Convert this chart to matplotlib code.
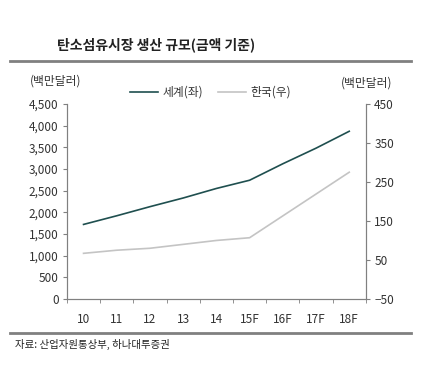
import numpy as np
import matplotlib.pyplot as plt
from matplotlib.lines import Line2D

plt.rcParams['font.family'] = ['Noto Sans CJK KR', 'DejaVu Sans']

# data
years = ["10", "11", "12", "13", "14", "15F", "16F", "17F", "18F"]
world = [1720, 1920, 2130, 2330, 2550, 2740, 3120, 3480, 3870]
korea = [67, 75, 80, 90, 100, 107, 163, 219, 275]

left_ticks = [0, 500, 1000, 1500, 2000, 2500, 3000, 3500, 4000, 4500]
right_ticks = [-50, 50, 150, 250, 350, 450]

world_color = "#1f4f4f"
korea_color = "#c4c4c4"
axis_color = "#808080"

fig = plt.figure(figsize=(4.21, 3.70), dpi=100)
ax = fig.add_axes([0.159, 0.192, 0.710, 0.527])
ax2 = ax.twinx()

x = np.arange(len(years))
ax.plot(x, world, color=world_color, lw=1.2)
ax2.plot(x, korea, color=korea_color, lw=1.2)

ax.set_xlim(-0.5, len(years) - 0.5)
ax.set_ylim(0, 4500)
ax2.set_ylim(-50, 450)
ax.set_yticks(left_ticks)
ax.set_yticklabels([f"{v:,}" for v in left_ticks])
ax2.set_yticks(right_ticks)
ax2.set_yticklabels([str(v).replace("-", "\u2212") for v in right_ticks])

ax.set_xticks(x)
ax.set_xticklabels(years)
ax.tick_params(axis="x", length=0, pad=10)
ax.set_xticks(np.arange(-0.5, len(years)), minor=True)
ax.tick_params(axis="x", which="minor", length=3, color=axis_color, direction="out")

for a in (ax, ax2):
    a.spines["top"].set_visible(False)
    for s in ("left", "right", "bottom"):
        a.spines[s].set_color(axis_color)
        a.spines[s].set_linewidth(0.8)
    a.tick_params(axis="y", length=3, color=axis_color, labelsize=8.5, pad=3, labelcolor="#333333")
ax.tick_params(axis="x", labelsize=8.5, labelcolor="#333333")

fig.text(0.37, 0.878, "탄소섬유시장 생산 규모(금액 기준)", fontsize=10, fontweight="bold",
         ha="center", va="center", color="#222222")
fig.add_artist(Line2D([0.024, 0.976], [0.835, 0.835], color="#808080", lw=2))
fig.add_artist(Line2D([0.024, 0.976], [0.100, 0.100], color="#808080", lw=2))
fig.text(0.036, 0.068, "자료: 산업자원통상부, 하나대투증권", fontsize=7.5, ha="left", va="center", color="#222222")

fig.text(0.07, 0.780, "(백만달러)", fontsize=8.5, ha="left", va="center", color="#333333")
fig.text(0.81, 0.775, "(백만달러)", fontsize=8.5, ha="left", va="center", color="#333333")

# legend drawn by hand
fig.add_artist(Line2D([0.309, 0.375], [0.752, 0.752], color=world_color, lw=1.2))
fig.text(0.385, 0.752, "세계(좌)", fontsize=8.5, ha="left", va="center", color="#333333")
fig.add_artist(Line2D([0.518, 0.584], [0.752, 0.752], color=korea_color, lw=1.2))
fig.text(0.594, 0.752, "한국(우)", fontsize=8.5, ha="left", va="center", color="#333333")

fig.savefig("out.png", dpi=100)
